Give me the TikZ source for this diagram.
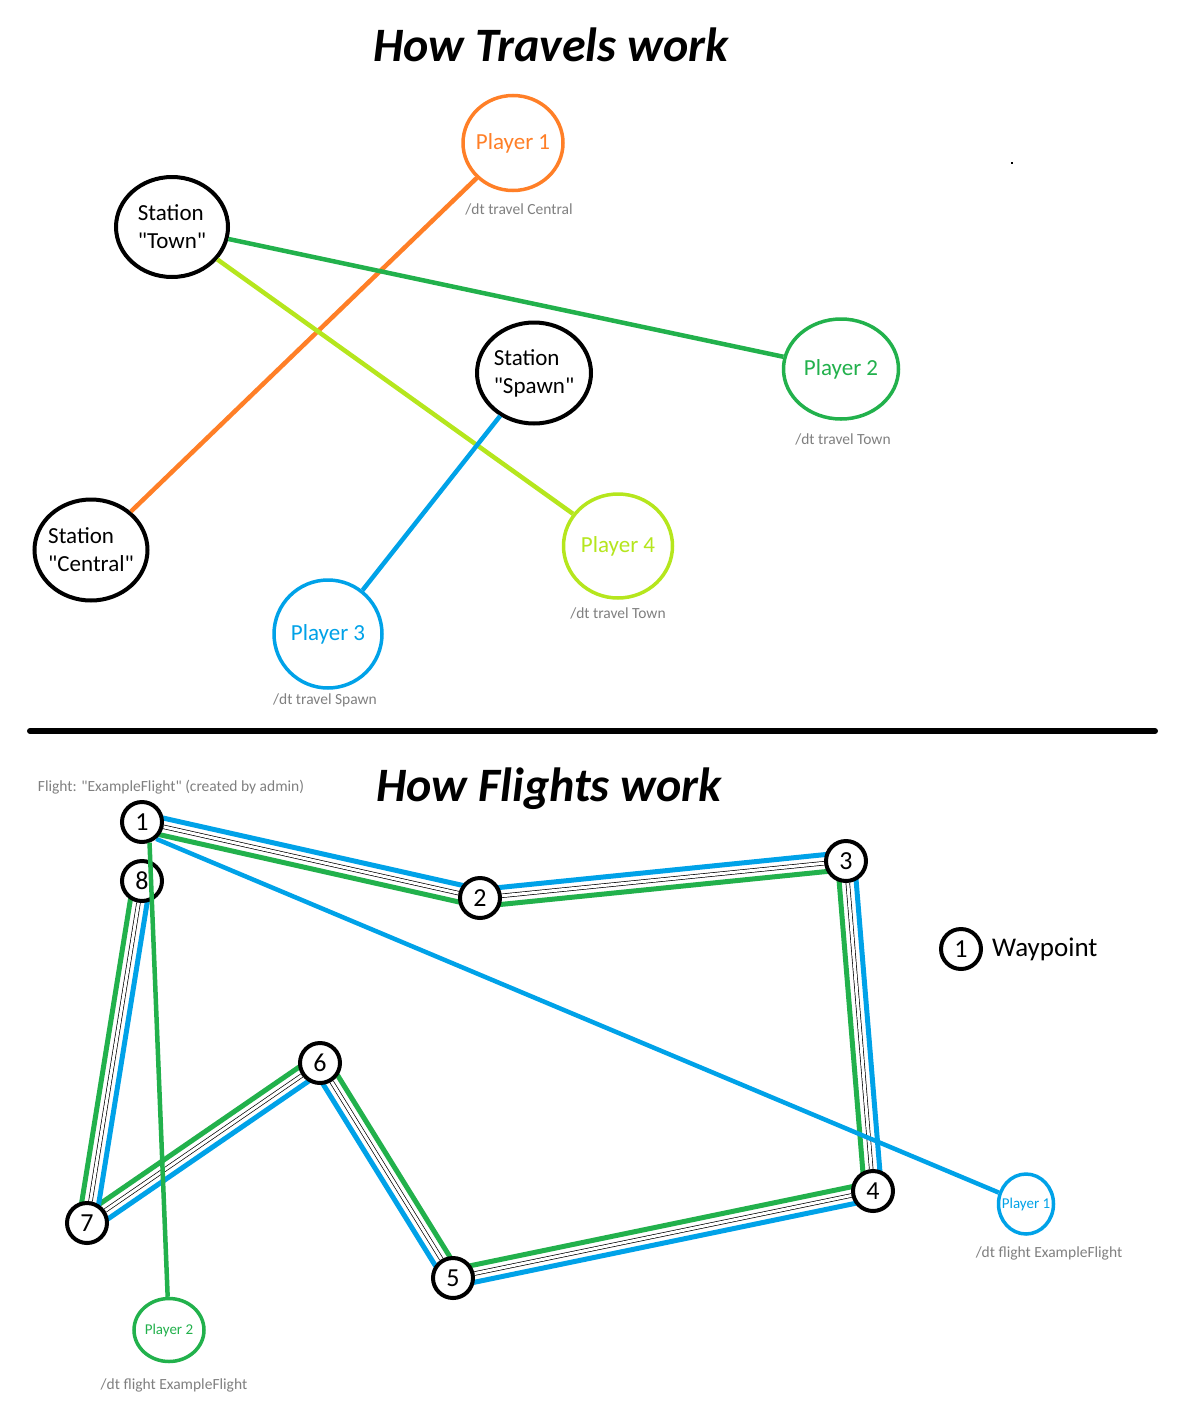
\documentclass[tikz,border=0pt]{standalone}
\usepackage{fontspec}
\setmainfont{Carlito}[Ligatures=TeXOff]
\usetikzlibrary{shapes.geometric, calc, backgrounds}

\definecolor{paintorange}{RGB}{255,127,39}
\definecolor{paintgreen}{RGB}{34,177,76}
\definecolor{paintlime}{RGB}{181,230,29}
\definecolor{paintblue}{RGB}{0,162,232}
\definecolor{cmdgray}{RGB}{127,127,127}

% one leg of the flight: blue track, rail, green track
\newcommand{\flightleg}[2]{%
  \draw[bluetrack] ($(#1)!8.5pt!90:(#2)$) -- ($(#2)!8.5pt!-90:(#1)$);
  \draw[railtrack] (#1) -- (#2);
  \draw[greentrack] ($(#1)!8.5pt!-90:(#2)$) -- ($(#2)!8.5pt!90:(#1)$);
}

\begin{document}
\begin{tikzpicture}[
  x=1pt, y=-1pt,
  title/.style={
    font=\bfseries\itshape\fontsize{48}{58}\selectfont,
    inner sep=0pt
  },
  station/.style={
    draw,
    ellipse,
    line width=4pt,
    fill=white,
    inner sep=0pt
  },
  stationtext/.style={
    align=left,
    font=\fontsize{23}{28}\selectfont
  },
  player/.style={
    draw,
    ellipse,
    line width=3.5pt,
    fill=white,
    inner sep=0pt
  },
  ptext/.style={
    font=\fontsize{23}{28}\selectfont
  },
  smallptext/.style={
    font=\fontsize{15}{18}\selectfont
  },
  cmd/.style={
    text=cmdgray,
    font=\fontsize{15.5}{18}\selectfont,
    inner sep=0pt
  },
  waypoint/.style={
    draw,
    circle,
    line width=4pt,
    fill=white,
    inner sep=0pt,
    minimum size=40pt,
    font=\fontsize{26}{30}\selectfont
  },
  travel/.style={
    line width=4.5pt
  },
  bluetrack/.style={
    draw=paintblue,
    line width=5pt
  },
  greentrack/.style={
    draw=paintgreen,
    line width=5pt
  },
  railtrack/.style={
    draw=black,
    line width=0.7pt,
    double=white,
    double distance=3pt
  }
]
\useasboundingbox (0,0) rectangle (1194,1416);

% Travels
\node[title] (travtitle) at (551,45) {How Travels work};

\node[station, minimum width=112pt, minimum height=100pt,
  label={[stationtext]center:{Station\\"Town"}}] (town) at (172,227) {};
\node[station, minimum width=114pt, minimum height=101pt,
  label={[stationtext]center:{Station\\"Spawn"}}] (spawn) at (534,373) {};
\node[station, minimum width=113pt, minimum height=101pt,
  label={[stationtext]center:{Station\\"Central"}}] (central) at (91,550) {};

\node[player, draw=paintorange, minimum width=100pt, minimum height=95pt,
  label={[ptext, paintorange]center:Player 1}] (tp1) at (513,143) {};
\node[player, draw=paintgreen, minimum width=115pt, minimum height=100pt,
  label={[ptext, paintgreen]center:Player 2}] (tp2) at (841,369) {};
\node[player, draw=paintblue, minimum width=108pt, minimum height=108pt,
  label={[ptext, paintblue]center:Player 3}] (tp3) at (328,634) {};
\node[player, draw=paintlime, minimum width=109pt, minimum height=104pt,
  label={[ptext, paintlime]center:Player 4}] (tp4) at (618,546) {};

\node[cmd] (cmd1) at (519,209) {/dt travel Central};
\node[cmd] (cmd2) at (843,439) {/dt travel Town};
\node[cmd] (cmd3) at (325,700) {/dt travel Spawn};
\node[cmd] (cmd4) at (618,613) {/dt travel Town};

\draw[travel, paintorange] (central) -- (tp1);
\draw[travel, paintgreen] (town) -- (tp2);
\draw[travel, paintlime] (town) -- (tp4);
\draw[travel, paintblue] (spawn) -- (tp3);

\fill (1011,162) rectangle ++(2,2);

% Divider
\draw[line width=6pt, line cap=round] (30,731) -- (1155,731);

% Flights
\node[title] (flighttitle) at (549,789) {How Flights work};
\node[cmd] (flightname) at (171,787) {Flight: "ExampleFlight" (created by admin)};

\node[waypoint] (w1) at (142,822) {1};
\node[waypoint] (w2) at (480,898) {2};
\node[waypoint] (w3) at (846,861) {3};
\node[waypoint] (w4) at (873,1191) {4};
\node[waypoint] (w5) at (453,1278) {5};
\node[waypoint] (w6) at (320,1063) {6};
\node[waypoint] (w7) at (87,1223) {7};
\node[waypoint] (w8) at (142,881) {8};

\node[player, draw=paintblue, minimum width=55pt, minimum height=60pt,
  label={[smallptext, paintblue]center:Player 1}] (fp1) at (1026,1204) {};
\node[player, draw=paintgreen, minimum width=70pt, minimum height=63pt,
  label={[smallptext, paintgreen]center:Player 2}] (fp2) at (169,1330) {};
\node[cmd] (cmd5) at (1049,1253) {/dt flight ExampleFlight};
\node[cmd] (cmd6) at (174,1385) {/dt flight ExampleFlight};

% Legend
\node[waypoint] (legend) at (961,949) {1};
\node[anchor=west, inner sep=0pt, font=\fontsize{27}{31}\selectfont] (legendtext) at (992,949) {Waypoint};

% Legs
\begin{pgfonlayer}{background}
\flightleg{w1}{w2}
\flightleg{w2}{w3}
\flightleg{w3}{w4}
\flightleg{w4}{w5}
\flightleg{w5}{w6}
\flightleg{w6}{w7}
\flightleg{w8}{w7}
\draw[travel, paintblue] (w1.-50) -- (fp1);
\end{pgfonlayer}
\draw[travel, paintgreen] (fp2) -- (w1.-70);

\end{tikzpicture}
\end{document}
